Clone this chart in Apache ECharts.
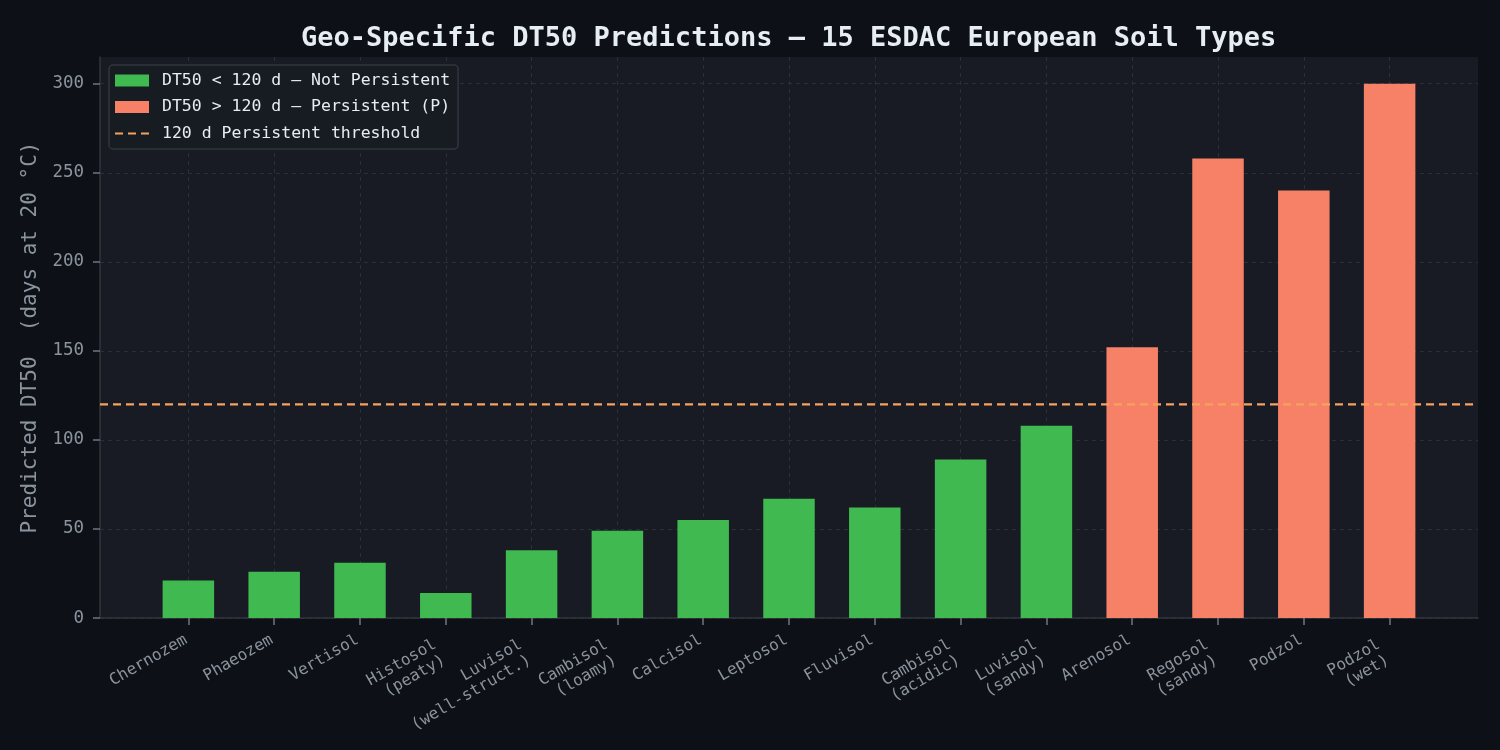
<!DOCTYPE html>
<html><head><meta charset="utf-8">
<script src="https://cdn.jsdelivr.net/npm/echarts@6/dist/echarts.min.js"></script>
<style>html,body{margin:0;padding:0;background:#0d1017;}#c{width:1500px;height:750px;}</style>
</head><body><div id="c"></div>
<script>
const categories = ["Chernozem","Phaeozem","Vertisol","Histosol\n(peaty)","Luvisol\n(well-struct.)","Cambisol\n(loamy)","Calcisol","Leptosol","Fluvisol","Cambisol\n(acidic)","Luvisol\n(sandy)","Arenosol","Regosol\n(sandy)","Podzol","Podzol\n(wet)"];
const dt50 = [21,26,31,14,38,49,55,67,62,89,108,152,258,240,300];
const threshold = 120;
const yTicks = [0,50,100,150,200,250,300];

const FONT = "DejaVu Sans Mono";
const green = "#3fb950", red = "#f78166", orange = "#f5a25d";
const idx = categories.map((_, i) => i);
const notP = [], pers = [];
dt50.forEach((v, i) => { (v > threshold ? pers : notP).push([i, v]); });

function xLabel(v) {
  const s = categories[Math.round(v)] || '';
  const lines = s.split('\n');
  return lines.length > 1 ? lines.map(l => l + ' ').join('\n') : s;
}

const chart = echarts.init(document.getElementById('c'), null, {renderer: 'canvas'});
chart.setOption({
  backgroundColor: '#0d1017',
  animation: false,
  title: {
    text: 'Geo-Specific DT50 Predictions — 15 ESDAC European Soil Types',
    left: 296, top: 20,
    textStyle: {fontFamily: FONT, fontWeight: 'bold', fontSize: 27, color: '#e6edf3'}
  },
  grid: {left: 100, right: 22, top: 57, bottom: 132, show: true, backgroundColor: '#181b23', borderWidth: 0},
  legend: {
    orient: 'vertical', left: 109, top: 65,
    padding: [7, 8, 7, 5], itemGap: 9.5,
    backgroundColor: '#171b22', borderColor: '#30363d', borderWidth: 1.5, borderRadius: 4,
    itemWidth: 34, itemHeight: 12,
    textStyle: {fontFamily: FONT, fontSize: 16.5, color: '#e6edf3', padding: [0, 0, 0, 8]},
    data: [
      {name: 'DT50 < 120 d — Not Persistent', icon: 'rect'},
      {name: 'DT50 > 120 d — Persistent (P)', icon: 'rect'},
      {name: '120 d Persistent threshold', itemStyle: {color: 'rgba(0,0,0,0)', borderColor: 'rgba(0,0,0,0)', borderWidth: 0, opacity: 0}}
    ]
  },
  xAxis: {
    type: 'value', min: -1.03, max: 15.03,
    axisLine: {show: true, onZero: false, lineStyle: {color: '#30363d', width: 1.5}},
    axisTick: {show: true, customValues: idx, length: 7, lineStyle: {color: '#6e7681', width: 1.5}},
    axisLabel: {
      customValues: idx, rotate: 30, align: 'right', verticalAlign: 'top', margin: 9,
      padding: [0, 8, 0, 0],
      fontFamily: FONT, fontSize: 16, color: '#8b949e', lineHeight: 18,
      formatter: xLabel
    },
    splitLine: {show: true, lineStyle: {color: '#2a2f38', type: [4, 4], width: 1}}
  },
  yAxis: {
    type: 'value', min: 0, max: 315,
    name: 'Predicted DT50  (days at 20 °C)', nameLocation: 'middle', nameGap: 58,
    nameTextStyle: {fontFamily: FONT, fontSize: 21, color: '#8b949e'},
    axisLine: {show: true, onZero: false, lineStyle: {color: '#30363d', width: 1.5}},
    axisTick: {show: true, customValues: yTicks, length: 7, lineStyle: {color: '#6e7681', width: 1.5}},
    axisLabel: {customValues: yTicks, fontFamily: FONT, fontSize: 17.5, color: '#8b949e', margin: 16},
    splitLine: {show: true, lineStyle: {color: '#2a2f38', type: [4, 4], width: 1}}
  },
  series: [
    {name: 'DT50 < 120 d — Not Persistent', type: 'bar', data: notP, barWidth: 51.5, barGap: '-100%',
      itemStyle: {color: green}},
    {name: 'DT50 > 120 d — Persistent (P)', type: 'bar', data: pers, barWidth: 51.5, barGap: '-100%',
      itemStyle: {color: red}},
    {name: '120 d Persistent threshold', type: 'line', data: [[-1.03, threshold], [15.03, threshold]],
      symbol: 'none', z: 5,
      lineStyle: {color: orange, width: 2.2, type: [8, 5]}, itemStyle: {color: orange}}
  ]
});
</script></body></html>
